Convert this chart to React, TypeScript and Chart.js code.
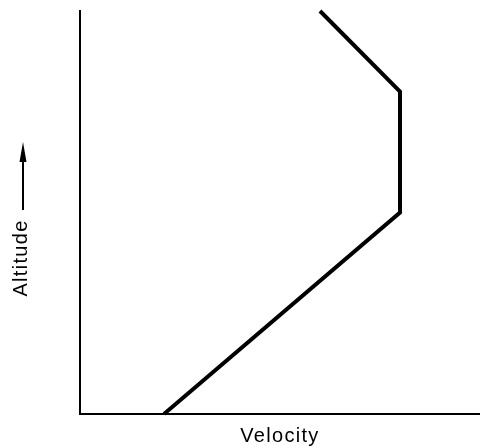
import { useEffect, useRef } from 'react';
import { Chart, registerables } from 'chart.js';

Chart.register(...registerables);

const xAxisTitle = 'Velocity';
const yAxisTitle = 'Altitude';
const velocity = [21, 80, 80, 60];
const altitude = [0, 50, 80, 100];

const axisTitlesPlugin = {
  id: 'axisTitles',
  afterDraw(chart: any) {
    const { ctx, chartArea } = chart;
    ctx.save();
    ctx.fillStyle = '#000';
    ctx.font = '20px "Liberation Sans", Arial, sans-serif';
    (ctx as any).letterSpacing = '1.3px';
    ctx.textAlign = 'center';
    ctx.textBaseline = 'alphabetic';
    ctx.fillText(xAxisTitle, (chartArea.left + chartArea.right) / 2, chartArea.bottom + 28);
    ctx.translate(27, 258);
    ctx.rotate(-Math.PI / 2);
    ctx.fillText(yAxisTitle, 0, 0);
    ctx.restore();

    // arrow next to the y title
    ctx.save();
    ctx.strokeStyle = '#000';
    ctx.fillStyle = '#000';
    ctx.lineWidth = 2;
    ctx.beginPath();
    ctx.moveTo(23, 210);
    ctx.lineTo(23, 158);
    ctx.stroke();
    ctx.beginPath();
    ctx.moveTo(23, 142);
    ctx.lineTo(19.5, 162);
    ctx.lineTo(26.5, 162);
    ctx.closePath();
    ctx.fill();
    ctx.restore();
  },
};

export default function App() {
  const ref = useRef<HTMLCanvasElement>(null);

  useEffect(() => {
    if (!ref.current) return;
    const chart = new Chart(ref.current, {
      type: 'scatter',
      data: {
        datasets: [
          {
            data: velocity.map((v, i) => ({ x: v, y: altitude[i] })),
            showLine: true,
            borderColor: '#000',
            borderWidth: 4,
            pointRadius: 0,
            borderJoinStyle: 'miter',
            fill: false,
            clip: false,
          } as any,
        ],
      },
      options: {
        responsive: false,
        animation: false,
        layout: { padding: { left: 80, right: 0, top: 11, bottom: 32 } },
        plugins: {
          legend: { display: false },
          tooltip: { enabled: false },
        },
        scales: {
          x: {
            type: 'linear',
            min: 0,
            max: 100,
            ticks: { display: false },
            grid: { display: false, drawTicks: false },
            border: { display: true, color: '#000', width: 2 },
          },
          y: {
            type: 'linear',
            min: 0,
            max: 100,
            ticks: { display: false },
            grid: { display: false, drawTicks: false },
            border: { display: true, color: '#000', width: 2 },
          },
        },
      },
      plugins: [axisTitlesPlugin],
    });
    return () => chart.destroy();
  }, []);

  return (
    <div style={{ position: 'absolute', left: 0, top: 0, width: 480, height: 446, background: '#fff' }}>
      <canvas ref={ref} width={480} height={446} />
    </div>
  );
}
